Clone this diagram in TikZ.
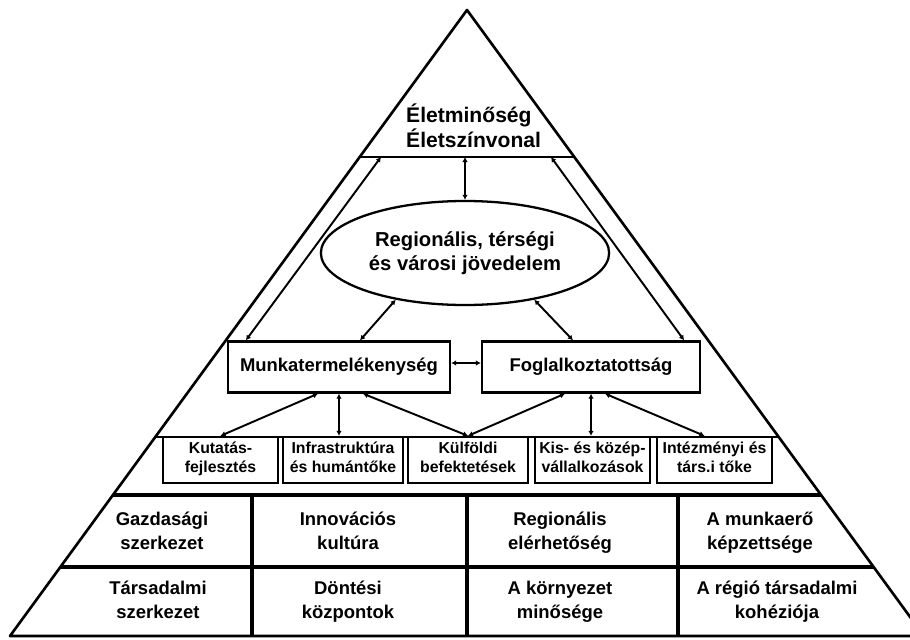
\documentclass[tikz,border=0pt]{standalone}
\usepackage{fontspec}
\setmainfont{Liberation Sans}
\usetikzlibrary{shapes.geometric,arrows.meta}

\begin{document}
\begin{tikzpicture}[x=0.2mm,y=-0.2mm,
  box/.style={draw,line width=1.3pt,inner sep=1pt,minimum height=9.2mm,align=center,font=\bfseries\fontsize{9}{11}\selectfont,
    execute at begin node=\strut,execute at end node=\strut},
  bigbox/.style={draw,line width=1.3pt,minimum height=10.2mm,font=\bfseries\fontsize{10.5}{12}\selectfont},
  cell/.style={align=center,font=\bfseries\fontsize{10.5}{13.6}\selectfont,
    execute at begin node=\strut,execute at end node=\strut},
  link/.style={line width=1.1pt,{Latex[length=1mm,width=1.1mm]}-{Latex[length=1mm,width=1.1mm]}}]
\useasboundingbox (0,0) rectangle (910,640);
\clip (0,0) rectangle (910,640);
% pyramid and the rows
\draw[line width=1.5pt,line join=round] (467,10) -- (10,636) -- (924,636) -- cycle;
\draw[line width=1.3pt] (359.7,157) -- (574.3,157);
\draw[line width=1.3pt] (155.3,437) -- (778.7,437);
\draw[line width=1.8pt] (113,495) -- (821,495);
\draw[line width=1.8pt] (60.4,567) -- (873.6,567);
\draw[line width=1.8pt] (252,495) -- (252,636);
\draw[line width=1.8pt] (467,495) -- (467,636);
\draw[line width=1.8pt] (678,495) -- (678,636);

\node[anchor=west,align=left,font=\bfseries\fontsize{12}{12.5}\selectfont] (elet) at (400,126) {Életminőség\\Életszínvonal};
\coordinate (top) at (465,157);
\coordinate (topl) at (381,157);
\coordinate (topr) at (551,157);

\node[ellipse,draw,line width=1.3pt,minimum width=56.8mm,minimum height=20.8mm,align=center,
  font=\bfseries\fontsize{11.5}{13.6}\selectfont] (jov) at (465,253) {Regionális, térségi\\és városi jövedelem};

\node[bigbox,minimum width=44.4mm] (mt) at (339,367) {Munkatermelékenység};
\node[bigbox,minimum width=43.6mm] (fog) at (591,367) {Foglalkoztatottság};

\node[box,minimum width=23mm] (kf) at (220.5,460) {Kutatás-\\fejlesztés};
\node[box,minimum width=24mm] (infra) at (343,460) {Infrastruktúra\\és humántőke};
\node[box,minimum width=24mm] (kulf) at (468,460) {Külföldi\\befektetések};
\node[box,minimum width=23mm] (kkv) at (592.5,460) {Kis- és közép-\\vállalkozások};
\node[box,minimum width=23mm] (int) at (714.5,460) {Intézményi és\\társ.i tőke};

\node[cell] (gsz) at (162,534) {Gazdasági\\szerkezet};
\node[cell] (inn) at (348,534) {Innovációs\\kultúra};
\node[cell] (reg) at (560,534) {Regionális\\elérhetőség};
\node[cell] (mun) at (760,534) {A munkaerő\\képzettsége};
\node[cell] (tsz) at (158,603) {Társadalmi\\szerkezet};
\node[cell] (dont) at (348,603) {Döntési\\központok};
\node[cell] (korny) at (560,603) {A környezet\\minősége};
\node[cell] (koh) at (777,603) {A régió társadalmi\\kohéziója};

% connectors
\draw[link] (top) -- (jov.north);
\draw[link] (topl) -- ([xshift=3.8mm]mt.north west);
\draw[link] (topr) -- ([xshift=-3.4mm]fog.north east);
\draw[link] (jov.214) -- ([xshift=4.2mm]mt.north);
\draw[link] (jov.326) -- ([xshift=-3.6mm]fog.north);
\draw[link] ([yshift=0.8mm]mt.east) -- ([yshift=0.8mm]fog.west);
\draw[link] ([xshift=-4.2mm]mt.south) -- (kf.north);
\draw[link] (mt.south) -- (infra.north -| mt.south);
\draw[link] ([xshift=4.8mm]mt.south) -- (kulf.north);
\draw[link] ([xshift=-5.2mm]fog.south) -- (kulf.north);
\draw[link] (fog.south) -- (kkv.north -| fog.south);
\draw[link] ([xshift=2.8mm]fog.south) -- ([xshift=-2mm]int.north);
\end{tikzpicture}
\end{document}
